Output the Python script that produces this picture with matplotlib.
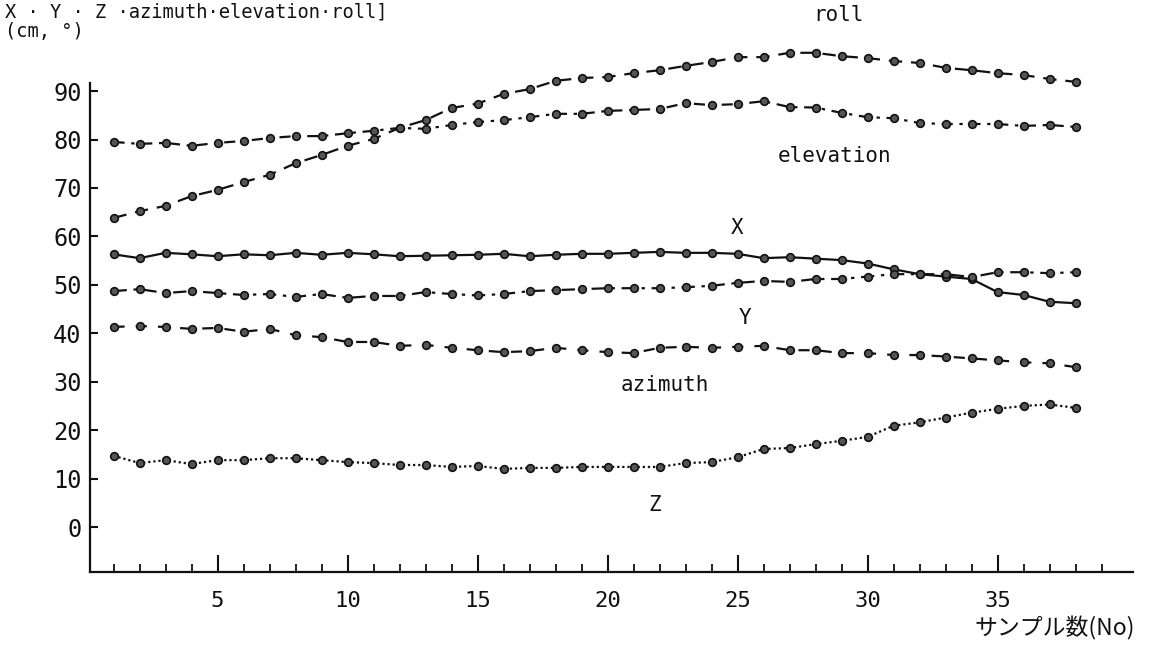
import matplotlib.pyplot as plt
from matplotlib.ticker import FixedLocator

# sample number (No)
samples = list(range(1, 39))

x_vals = [56.3, 55.5, 56.6, 56.3, 55.9, 56.3, 56.1, 56.6, 56.2, 56.6,
          56.3, 55.9, 56.0, 56.1, 56.2, 56.4, 55.9, 56.2, 56.4, 56.4,
          56.6, 56.8, 56.6, 56.6, 56.4, 55.5, 55.7, 55.4, 55.1, 54.4,
          53.2, 52.2, 51.7, 51.2, 48.5, 47.9, 46.5, 46.2]
y_vals = [48.7, 49.1, 48.3, 48.7, 48.3, 47.9, 48.1, 47.5, 48.1, 47.3,
          47.7, 47.7, 48.5, 48.1, 47.8, 48.1, 48.7, 48.9, 49.1, 49.3,
          49.3, 49.3, 49.5, 49.8, 50.4, 50.8, 50.6, 51.2, 51.2, 51.7,
          52.2, 52.2, 52.2, 51.6, 52.6, 52.6, 52.4, 52.6]
z_vals = [14.7, 13.2, 13.8, 13.0, 13.8, 13.8, 14.2, 14.2, 13.8, 13.4,
          13.2, 12.8, 12.8, 12.4, 12.6, 12.0, 12.2, 12.2, 12.4, 12.4,
          12.4, 12.4, 13.2, 13.4, 14.4, 16.1, 16.3, 17.1, 17.8, 18.6,
          20.9, 21.6, 22.6, 23.6, 24.4, 25.0, 25.3, 24.6]
azimuth = [41.3, 41.5, 41.3, 40.9, 41.1, 40.3, 40.9, 39.6, 39.2, 38.2,
           38.2, 37.4, 37.6, 37.0, 36.5, 36.1, 36.3, 37.0, 36.5, 36.1,
           35.9, 37.0, 37.2, 37.0, 37.2, 37.4, 36.5, 36.5, 35.9, 35.9,
           35.5, 35.5, 35.2, 34.8, 34.4, 34.0, 33.8, 33.0]
elevation = [79.5, 79.1, 79.3, 78.7, 79.3, 79.7, 80.3, 80.7, 80.7, 81.3,
             81.8, 82.4, 82.2, 83.0, 83.6, 84.0, 84.6, 85.3, 85.3, 85.9,
             86.1, 86.3, 87.5, 87.1, 87.3, 87.9, 86.7, 86.6, 85.5, 84.6,
             84.4, 83.4, 83.2, 83.2, 83.2, 82.8, 83.0, 82.6]
roll = [63.8, 65.2, 66.3, 68.3, 69.6, 71.2, 72.7, 75.1, 76.8, 78.7,
        80.1, 82.4, 84.0, 86.5, 87.4, 89.4, 90.4, 92.1, 92.7, 92.9,
        93.7, 94.3, 95.2, 96.0, 97.0, 97.0, 97.9, 97.9, 97.2, 96.8,
        96.2, 95.8, 94.8, 94.3, 93.7, 93.3, 92.5, 91.9]

y_ticks = [0, 10, 20, 30, 40, 50, 60, 70, 80, 90]
x_major = [5, 10, 15, 20, 25, 30, 35]
x_minor = list(range(1, 40))

mono = "DejaVu Sans Mono"
ink = "#111111"

fig = plt.figure(figsize=(11.49, 6.48), dpi=100)
ax = fig.add_axes([90 / 1149, 1 - 572 / 648, (1133 - 90) / 1149, 572 / 648])

mk = dict(marker="o", markersize=5.5, markerfacecolor="#555555",
          markeredgecolor=ink, markeredgewidth=1.2, color=ink, lw=1.6)

ax.plot(samples, x_vals, linestyle="-", **mk)
ax.plot(samples, y_vals, dashes=(6, 3, 1.5, 3), **mk)
ax.plot(samples, z_vals, dashes=(1, 1.3), **mk)
ax.plot(samples, azimuth, dashes=(5, 5), **mk)
ax.plot(samples, elevation, dashes=(5, 3, 1.5, 3), **mk)
ax.plot(samples, roll, dashes=(6, 4), **mk)

ax.set_xlim(0.096, 40.21)
ax.set_ylim(-9.29, 108.8)

for s in ["top", "right"]:
    ax.spines[s].set_visible(False)
ax.spines["left"].set_bounds(-9.29, 91.6)
for s in ["left", "bottom"]:
    ax.spines[s].set_linewidth(1.6)
    ax.spines[s].set_color(ink)

ax.set_yticks(y_ticks)
ax.set_yticklabels([str(v) for v in y_ticks], fontsize=17, family=mono)
ax.tick_params(axis="y", direction="in", length=6, width=1.5, pad=6, colors=ink)

ax.xaxis.set_major_locator(FixedLocator(x_major))
ax.xaxis.set_minor_locator(FixedLocator(x_minor))
ax.set_xticklabels([str(v) for v in x_major], fontsize=16, family=mono)
ax.tick_params(axis="x", which="major", direction="in", length=12, width=1.5, pad=14, colors=ink)
ax.tick_params(axis="x", which="minor", direction="in", length=6, width=1.3, colors=ink)

lab = dict(fontsize=15, family=mono, color=ink, ha="center", va="center")
ax.text(28.9, 105.7, "roll", **lab)
ax.text(28.75, 76.6, "elevation", **lab)
ax.text(25.0, 61.7, "X", **lab)
ax.text(25.3, 43.1, "Y", **lab)
ax.text(22.2, 29.3, "azimuth", **lab)
ax.text(21.8, 4.5, "Z", **lab)

fig.text(5 / 1149, 1 - 12 / 648, "X · Y · Z ·azimuth·elevation·roll]",
         fontsize=13.5, family=mono, color=ink, ha="left", va="center")
fig.text(5 / 1149, 1 - 31 / 648, "(cm, °)",
         fontsize=13.5, family=mono, color=ink, ha="left", va="center")
fig.text(1135 / 1149, 1 - 628 / 648, "サンプル数(No)",
         fontsize=16.5, family=["Noto Sans CJK JP", "DejaVu Sans"], color=ink,
         ha="right", va="center")

fig.savefig("out.png", dpi=100)
